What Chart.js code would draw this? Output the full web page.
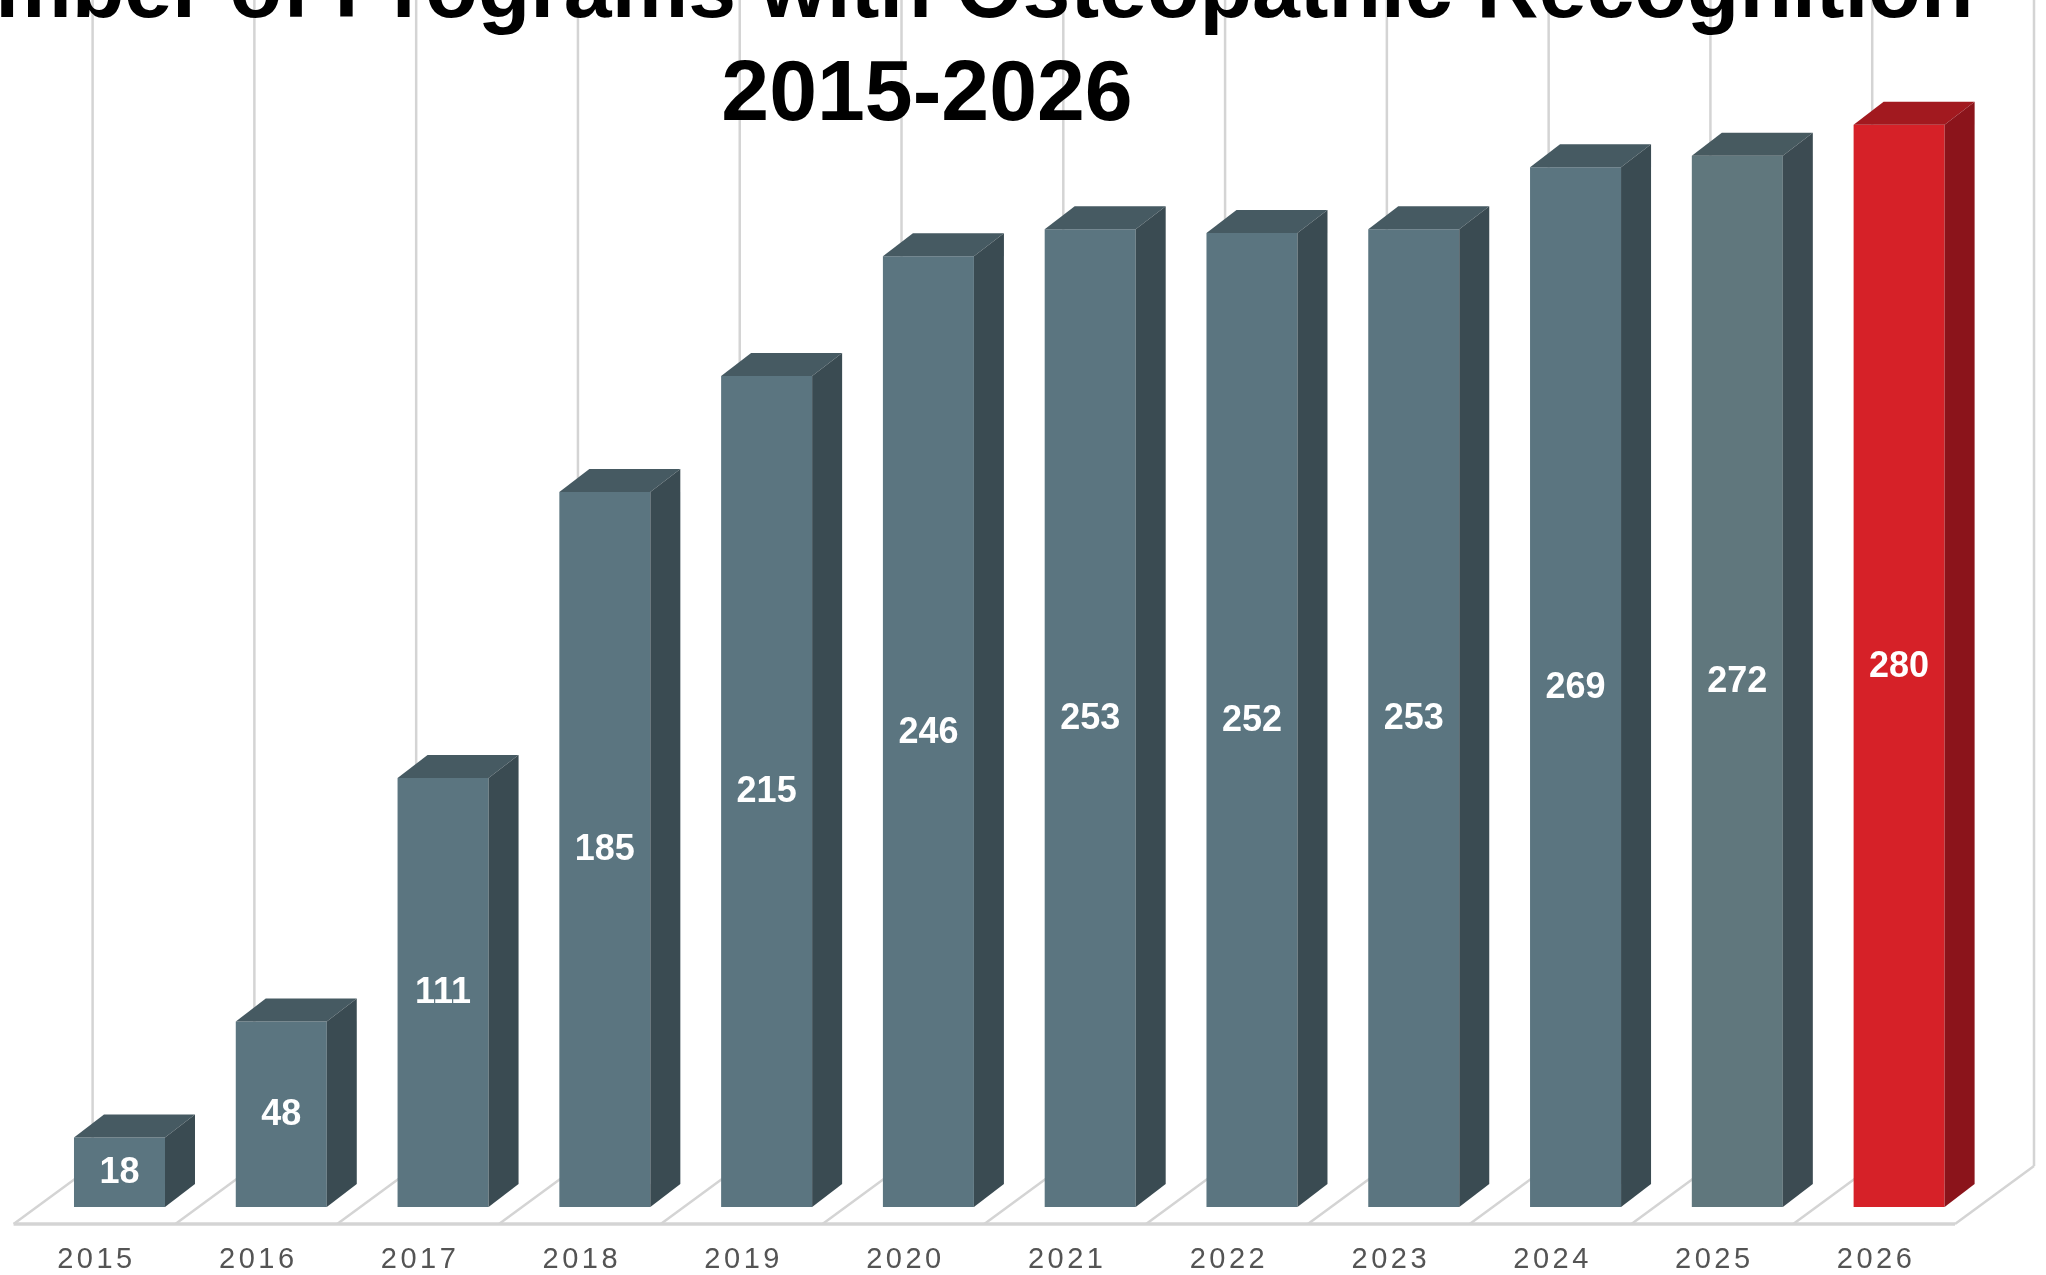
<!DOCTYPE html>
<html>
<head>
<meta charset="utf-8">
<script src="https://cdn.jsdelivr.net/npm/chart.js@4.4.1/dist/chart.umd.min.js"></script>
<style>
  html, body { margin: 0; padding: 0; background: #fff; }
  #wrap { position: relative; width: 2046px; height: 1275px; }
</style>
</head>
<body>
<div id="wrap"><canvas id="programsChart"></canvas></div>
<script>
// data
const years = ['2015', '2016', '2017', '2018', '2019', '2020', '2021', '2022', '2023', '2024', '2025', '2026'];
const programCounts = [18, 48, 111, 185, 215, 246, 253, 252, 253, 269, 272, 280];
const titleLines = ['Number of Programs with Osteopathic Recognition', '2015-2026'];

// face colours: slate for past years, red for the current one
const SLATE = { front: '#5b7580', side: '#3a4b52', top: '#465a62' };
const SLATE_2025 = { front: '#60777d', side: '#3c4b52', top: '#475a60' };
const RED = { front: '#d62128', side: '#8b141b', top: '#a2191f' };
const faceColors = years.map((y, i) => i === years.length - 1 ? RED : (i === years.length - 2 ? SLATE_2025 : SLATE));

// pseudo 3D geometry
const DEPTH_X = 30, DEPTH_Y = 23;      // bar side/top faces
const FLOOR_FRONT = { dx: -25, dy: 17 };
const FLOOR_BACK = { dx: 54, dy: -41 };
const GRID_COLOR = '#d4d4d4';

function line(ctx, x1, y1, x2, y2) {
    ctx.beginPath();
    ctx.moveTo(x1, y1);
    ctx.lineTo(x2, y2);
    ctx.stroke();
}

const floor3d = {
    id: 'floor3d',
    beforeDraw(chart) {
        // spaced-out tick labels like the original
        chart.ctx.letterSpacing = '3.5px';
    },
    beforeDatasetsDraw(chart) {
        const ctx = chart.ctx;
        const xs = chart.scales.x, ys = chart.scales.y;
        ctx.letterSpacing = '0px';
        const base = ys.getPixelForValue(0);
        const step = xs.getPixelForValue(1) - xs.getPixelForValue(0);
        const frontY = base + FLOOR_FRONT.dy, backY = base + FLOOR_BACK.dy;
        ctx.save();
        ctx.strokeStyle = GRID_COLOR;
        ctx.lineWidth = 2.5;
        for (let i = 0; i <= years.length; i++) {
            const b = xs.getPixelForValue(0) - step / 2 + i * step;
            line(ctx, b + FLOOR_BACK.dx, backY, b + FLOOR_BACK.dx, 0);
            line(ctx, b + FLOOR_FRONT.dx, frontY, b + FLOOR_BACK.dx, backY);
        }
        ctx.lineWidth = 3.5;
        const left = xs.getPixelForValue(0) - step / 2;
        line(ctx, left + FLOOR_FRONT.dx, frontY, left + years.length * step + FLOOR_FRONT.dx, frontY);
        ctx.restore();
    },
    afterDatasetsDraw(chart) {
        const ctx = chart.ctx;
        const meta = chart.getDatasetMeta(0);
        ctx.save();
        meta.data.forEach((bar, i) => {
            const c = faceColors[i];
            const x0 = bar.x - bar.width / 2, x1 = bar.x + bar.width / 2;
            const top = bar.y, base = bar.base;
            // top face
            ctx.fillStyle = c.top;
            ctx.beginPath();
            ctx.moveTo(x0, top);
            ctx.lineTo(x0 + DEPTH_X, top - DEPTH_Y);
            ctx.lineTo(x1 + DEPTH_X, top - DEPTH_Y);
            ctx.lineTo(x1, top);
            ctx.closePath();
            ctx.fill();
            // side face
            ctx.fillStyle = c.side;
            ctx.beginPath();
            ctx.moveTo(x1, top);
            ctx.lineTo(x1 + DEPTH_X, top - DEPTH_Y);
            ctx.lineTo(x1 + DEPTH_X, base - DEPTH_Y);
            ctx.lineTo(x1, base);
            ctx.closePath();
            ctx.fill();
            // value label in the middle of the front face
            ctx.fillStyle = '#ffffff';
            ctx.font = 'bold 36px "Liberation Sans", Arial, sans-serif';
            ctx.textAlign = 'center';
            ctx.textBaseline = 'middle';
            ctx.fillText(String(programCounts[i]), bar.x, (top + base) / 2 + 1);
        });
        ctx.restore();
    },
    afterDraw(chart) {
        // title sits off-centre and runs off the top edge in the original
        const ctx = chart.ctx;
        ctx.save();
        ctx.letterSpacing = '0px';
        ctx.fillStyle = '#000000';
        ctx.font = 'bold 86px "Liberation Sans", Arial, sans-serif';
        ctx.textAlign = 'center';
        ctx.textBaseline = 'alphabetic';
        ctx.fillText(titleLines[0], 927, 17);
        ctx.fillText(titleLines[1], 927, 120);
        ctx.restore();
    }
};

new Chart(document.getElementById('programsChart'), {
    type: 'bar',
    data: {
        labels: years,
        datasets: [{
            label: 'Programs',
            data: programCounts,
            backgroundColor: faceColors.map(c => c.front),
            borderWidth: 0,
            categoryPercentage: 1,
            barPercentage: 0.5625
        }]
    },
    options: {
        responsive: true,
        maintainAspectRatio: false,
        animation: false,
        layout: { padding: { top: 47.5, left: 38.6, right: 66, bottom: 0 } },
        plugins: {
            legend: { display: false },
            tooltip: { enabled: false },
            title: { display: false }
        },
        scales: {
            x: {
                grid: { display: false, drawTicks: false },
                border: { display: false },
                ticks: {
                    color: '#545454',
                    font: { family: '"Liberation Sans", Arial, sans-serif', size: 29 },
                    padding: 36,
                    labelOffset: -23,
                    maxRotation: 0
                },
                afterFit(scale) { scale.height = 68; }
            },
            y: {
                display: false,
                min: 0,
                max: 300
            }
        }
    },
    plugins: [floor3d]
});
</script>
</body>
</html>
